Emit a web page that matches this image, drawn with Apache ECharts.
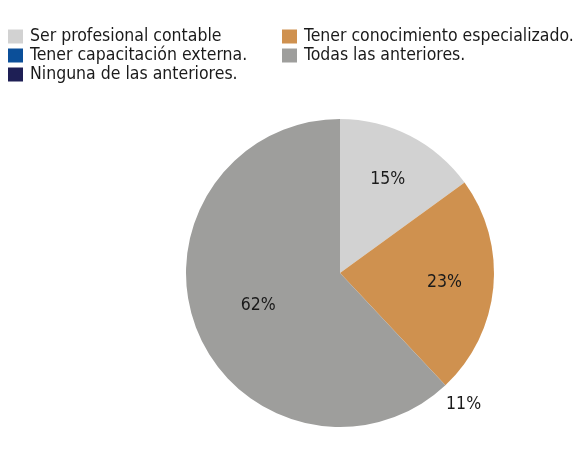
<!DOCTYPE html>
<html lang="es">
<head>
    <meta charset="UTF-8">
    <title>Pie</title>
    <style>
        html, body { margin: 0; padding: 0; background: #fff; }
        #main { width: 584px; height: 462px; }
    </style>
</head>
<body>
<div id="main"></div>
<script src="https://cdn.jsdelivr.net/npm/echarts@6/dist/echarts.min.js"></script>
<script>
    // datos
    var categorias = ['Ser profesional contable', 'Tener conocimiento especializado.', 'Tener capacitación externa.', 'Todas las anteriores.', 'Ninguna de las anteriores.'];
    var valores = [15, 23, 0, 62, 0];
    var etiquetas = ['15%', '23%', '11%', '62%', ''];
    var colores = ['#d2d2d2', '#cf914f', '#0b4f99', '#9e9e9c', '#1e1f55'];

    var fuente = '"DejaVu Sans Condensed", "DejaVu Sans", sans-serif';
    var chart = echarts.init(document.getElementById('main'));

    var datosPie = [];
    var datosEtiq = [];
    var datosEtiq2 = [];
    for (var i = 0; i < categorias.length; i++) {
        datosPie.push({
            name: categorias[i],
            value: valores[i],
            itemStyle: { color: colores[i] },
            // solo la etiqueta pequeña va fuera
            label: { show: i == 2 }
        });
        datosEtiq.push({
            name: categorias[i],
            value: valores[i],
            label: { show: i < 2 }
        });
        datosEtiq2.push({
            name: categorias[i],
            value: valores[i],
            label: { show: i == 3 }
        });
    }

    // capa transparente solo para las etiquetas interiores
    function capaEtiquetas(radioExt, datos) {
        return {
            type: 'pie',
            center: [340, 273],
            radius: [0, radioExt],
            startAngle: 90,
            clockwise: true,
            silent: true,
            itemStyle: { color: 'rgba(0,0,0,0)' },
            label: {
                position: 'inside',
                fontFamily: fuente,
                fontSize: 17.5,
                color: '#1a1a1a',
                formatter: function (p) { return etiquetas[p.dataIndex]; }
            },
            labelLine: { show: false },
            data: datos
        };
    }

    var option = {
        animation: false,
        legend: {
            left: 3,
            top: 22,
            orient: 'horizontal',
            itemWidth: 15,
            itemHeight: 14,
            itemGap: 0,
            icon: 'rect',
            data: categorias,
            textStyle: {
                fontFamily: fuente,
                fontSize: 17.5,
                color: '#1a1a1a',
                lineHeight: 19,
                width: 252,
                padding: [0, 0, 0, 2]
            }
        },
        series: [
            {
                name: 'principal',
                type: 'pie',
                center: [340, 273],
                radius: 154,
                startAngle: 90,
                clockwise: true,
                silent: true,
                label: {
                    position: 'outside',
                    fontFamily: fuente,
                    fontSize: 17.5,
                    color: '#1a1a1a',
                    lineHeight: 36,
                    distanceToLabelLine: 0,
                    formatter: function (p) { return '\n' + etiquetas[p.dataIndex]; }
                },
                labelLine: { show: false, length: 1, length2: 0 },
                data: datosPie
            },
            capaEtiquetas(204, datosEtiq),
            capaEtiquetas(170, datosEtiq2)
        ]
    };
    chart.setOption(option);
</script>
</body>
</html>
